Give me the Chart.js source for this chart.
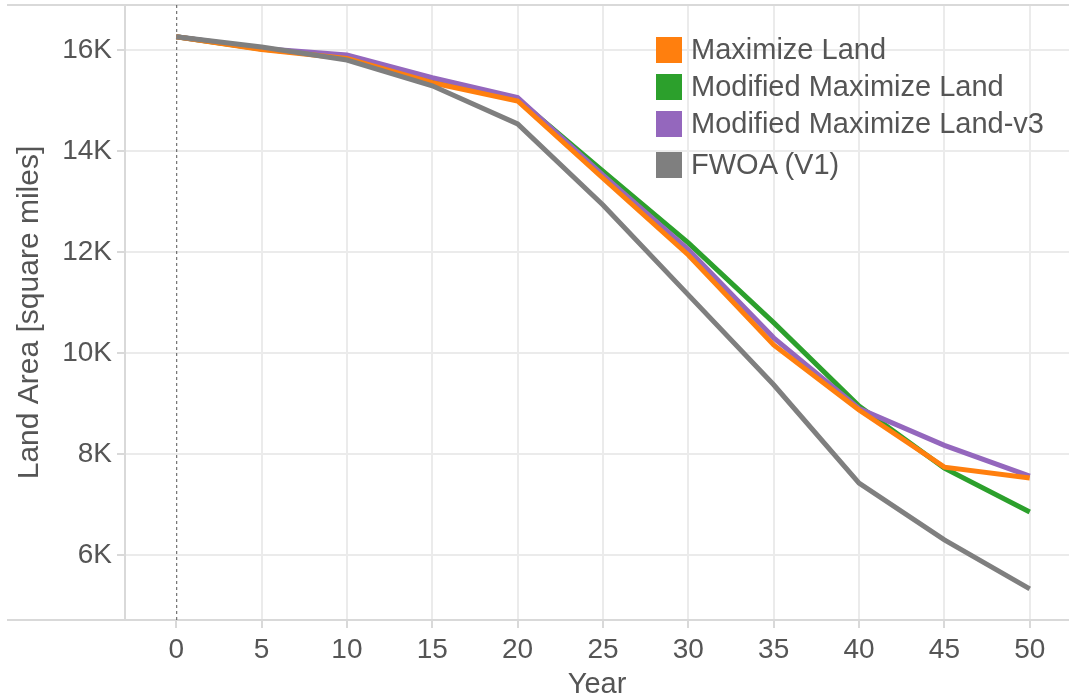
<!DOCTYPE html>
<html>
<head>
<meta charset="utf-8">
<script src="https://cdn.jsdelivr.net/npm/chart.js@4/dist/chart.umd.min.js"></script>
<style>
  body { margin: 0; background: #fff; font-family: "Liberation Sans", Arial, sans-serif; }
  #wrap { position: relative; width: 1069px; height: 700px; }
  #legend { position: absolute; left: 656px; top: 31px; color: #555; font-size: 29px; }
  #legend div { display: flex; align-items: center; height: 37px; }
  #legend div:last-child { margin-top: 4px; }
  #legend span.sw { width: 26px; height: 26px; margin-right: 9px; display: inline-block; }
</style>
</head>
<body>
<div id="wrap">
  <canvas id="chart" width="1069" height="700"></canvas>
  <div id="legend"></div>
</div>
<script>
const years = [0, 5, 10, 15, 20, 25, 30, 35, 40, 45, 50];
const seriesNames = ['Maximize Land', 'Modified Maximize Land', 'Modified Maximize Land-v3', 'FWOA (V1)'];
const maximizeLand = [16260, 16010, 15830, 15350, 14990, 13460, 11940, 10160, 8870, 7740, 7525];
const modifiedMaxLand = [16260, 16020, 15850, 15400, 15030, 13600, 12180, 10600, 8950, 7720, 6850];
const modifiedMaxLandV3 = [16260, 16030, 15900, 15450, 15060, 13520, 12050, 10300, 8900, 8170, 7560];
const fwoa = [16260, 16060, 15800, 15290, 14535, 12930, 11150, 9370, 7425, 6300, 5330];
const yTicks = [6000, 8000, 10000, 12000, 14000, 16000];
const xTicks = [0, 5, 10, 15, 20, 25, 30, 35, 40, 45, 50];

const colors = ['#ff7f0e', '#2ca02c', '#9467bd', '#7f7f7f'];
const drawOrder = [2, 4, 3, 1];
const allSeries = [maximizeLand, modifiedMaxLand, modifiedMaxLandV3, fwoa];

const datasets = allSeries.map((vals, i) => ({
  label: seriesNames[i],
  data: vals.map((v, j) => ({ x: years[j], y: v })),
  borderColor: colors[i],
  backgroundColor: colors[i],
  borderWidth: 5,
  pointRadius: 0,
  tension: 0,
  order: drawOrder[i],
}));

// html legend
const legendEl = document.getElementById('legend');
seriesNames.forEach((name, i) => {
  const row = document.createElement('div');
  row.innerHTML = `<span class="sw" style="background:${colors[i]}"></span>${name}`;
  legendEl.appendChild(row);
});

const frameLines = {
  id: 'frameLines',
  beforeDatasetsDraw(chart) {
    const { ctx, chartArea } = chart;
    const x0 = chart.scales.x.getPixelForValue(0);
    ctx.save();
    ctx.strokeStyle = '#d9d9d9';
    ctx.lineWidth = 2;
    ctx.beginPath();
    ctx.moveTo(7, chartArea.top);
    ctx.lineTo(chart.width, chartArea.top);
    ctx.moveTo(7, chartArea.bottom);
    ctx.lineTo(chart.width, chartArea.bottom);
    ctx.stroke();
    ctx.strokeStyle = '#555';
    ctx.lineWidth = 1;
    ctx.setLineDash([3, 3]);
    ctx.beginPath();
    ctx.moveTo(x0 + 0.5, chartArea.top);
    ctx.lineTo(x0 + 0.5, chartArea.bottom);
    ctx.stroke();
    ctx.restore();
  }
};

new Chart(document.getElementById('chart'), {
  type: 'line',
  data: { datasets },
  options: {
    responsive: false,
    animation: false,
    layout: { padding: { top: 5, right: 0, left: 0, bottom: 0 } },
    plugins: { legend: { display: false }, tooltip: { enabled: false } },
    scales: {
      x: {
        type: 'linear',
        min: -3,
        max: 52.3,
        afterBuildTicks: (scale) => { scale.ticks = xTicks.map(v => ({ value: v })); },
        afterFit: (scale) => {
          scale.height = 80;
          scale.paddingLeft = 0;
          scale.paddingRight = 0;
        },
        grid: {
          color: (c) => (c.tick && c.tick.value === 0 ? 'rgba(0,0,0,0)' : '#ebebeb'),
          lineWidth: 2,
          tickLength: 8,
          tickColor: '#d9d9d9',
        },
        border: { color: '#d9d9d9', width: 2 },
        ticks: {
          color: '#555',
          font: { family: 'Liberation Sans', size: 28 },
          padding: 5,
          maxRotation: 0,
        },
        title: {
          display: true,
          text: 'Year',
          color: '#555',
          font: { family: 'Liberation Sans', size: 29 },
          padding: { top: 0, bottom: -2 },
        },
      },
      y: {
        min: 4713,
        max: 16890,
        afterBuildTicks: (scale) => { scale.ticks = yTicks.map(v => ({ value: v })); },
        afterFit: (scale) => {
          scale.width = 125;
          scale.paddingTop = 0;
          scale.paddingBottom = 0;
        },
        grid: {
          color: '#ebebeb',
          lineWidth: 2,
          tickLength: 8,
          tickColor: '#d9d9d9',
        },
        border: { color: '#d9d9d9', width: 2 },
        ticks: {
          color: '#555',
          font: { family: 'Liberation Sans', size: 28 },
          padding: 5,
          callback: (v) => (v / 1000) + 'K',
        },
        title: {
          display: true,
          text: 'Land Area [square miles]',
          color: '#555',
          font: { family: 'Liberation Sans', size: 30 },
          padding: { top: 12, bottom: 0 },
        },
      },
    },
  },
  plugins: [frameLines],
});
</script>
</body>
</html>
